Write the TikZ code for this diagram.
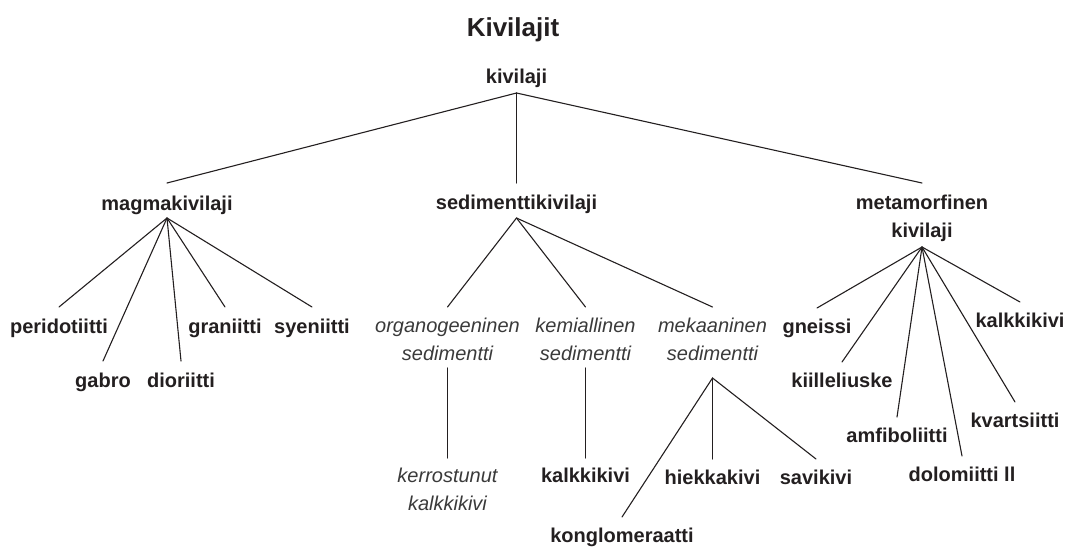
\documentclass[tikz,border=0pt]{standalone}
\usepackage{fontspec}
\setmainfont{Liberation Sans}
\definecolor{ink}{HTML}{231F20}
\definecolor{inkit}{HTML}{3A3A3A}
\tikzset{
  lbl/.style={anchor=base, inner sep=0pt, text=ink, align=center,
    font=\fontsize{20}{27.5}\selectfont\bfseries},
  ital/.style={lbl, text=inkit, font=\fontsize{20}{27.5}\selectfont\itshape},
  edge/.style={draw=ink, line width=1.1pt, line cap=round},
}
\begin{document}
\begin{tikzpicture}[x=1pt,y=-1pt]
\useasboundingbox (0,0) rectangle (1067,547);
% title
\node[lbl, font=\fontsize{26}{30}\selectfont\bfseries] (title) at (513,36) {Kivilajit};
% root
\node[lbl] (root) at (516.5,83) {kivilaji};
% level 1 (multi-line nodes are placed at the baseline of their last line)
\node[lbl] (magma) at (167,210) {magmakivilaji};
\node[lbl] (sedi) at (516.5,209) {sedimenttikivilaji};
\node[lbl] (meta) at (922,237) {metamorfinen\\kivilaji};
% magma children
\node[lbl] (peri) at (59,333) {peridotiitti};
\node[lbl] (gabro) at (103,387) {gabro};
\node[lbl] (dior) at (181,387) {dioriitti};
\node[lbl] (gran) at (225,333) {graniitti};
\node[lbl] (syen) at (312,333) {syeniitti};
% sediment children
\node[ital] (org) at (447.5,360) {organogeeninen\\sedimentti};
\node[ital] (kem) at (585.5,360) {kemiallinen\\sedimentti};
\node[ital] (mek) at (712.5,360) {mekaaninen\\sedimentti};
\node[ital] (kerr) at (447.5,510) {kerrostunut\\kalkkikivi};
\node[lbl] (kalka) at (585.5,482) {kalkkikivi};
\node[lbl] (hiek) at (712.5,484) {hiekkakivi};
\node[lbl] (savi) at (816,484) {savikivi};
\node[lbl] (kong) at (622,542) {konglomeraatti};
% metamorphic children
\node[lbl] (gneis) at (817,333) {gneissi};
\node[lbl] (kiil) at (842,387) {kiilleliuske};
\node[lbl] (amfi) at (897,442) {amfiboliitti};
\node[lbl] (dolo) at (962,481) {dolomiitti ll};
\node[lbl] (kvar) at (1015,427) {kvartsiitti};
\node[lbl] (kalkb) at (1020,327) {kalkkikivi};
% connectors
\draw[edge] ([yshift=-10pt]root.base) -- ([yshift=27pt]magma.base);
\draw[edge] ([yshift=-10pt]root.base) -- ([yshift=26pt]sedi.base);
\draw[edge] ([yshift=-10pt]root.base) -- ([yshift=54pt]meta.base);
\foreach \c in {peri,gabro,dior,gran,syen}
  \draw[edge] ([yshift=-8pt]magma.base) -- ([yshift=26pt]\c.base);
\foreach \c in {org,kem,mek}
  \draw[edge] ([yshift=-9pt]sedi.base) -- ([yshift=53pt]\c.base);
\draw[edge] ([yshift=-8pt]org.base) -- ([yshift=52pt]kerr.base);
\draw[edge] ([yshift=-8pt]kem.base) -- ([yshift=24pt]kalka.base);
\foreach \c in {hiek,savi,kong}
  \draw[edge] ([yshift=-18pt]mek.base) -- ([yshift=25pt]\c.base);
\foreach \c in {gneis,kiil,amfi,dolo,kvar,kalkb}
  \draw[edge] ([yshift=-10pt]meta.base) -- ([yshift=25pt]\c.base);
\end{tikzpicture}
\end{document}
